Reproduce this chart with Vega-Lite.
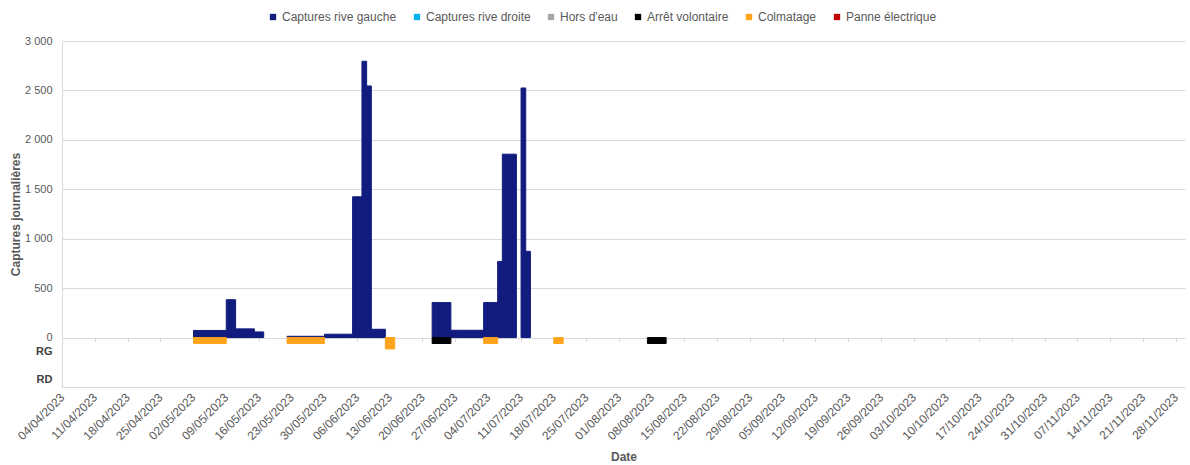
{
  "$schema": "https://vega.github.io/schema/vega-lite/v6.json",
  "width": 1123,
  "height": 346,
  "autosize": "none",
  "padding": {"left": 62, "top": 41, "right": 5, "bottom": 78},
  "background": "white",
  "config": {
    "view": {"stroke": null},
    "font": "Liberation Sans",
    "axis": {"labelFont": "Liberation Sans", "titleFont": "Liberation Sans"},
    "legend": {"labelFont": "Liberation Sans"}
  },
  "data": {
    "values": [
      {"date": "2023-05-02", "serie": "Captures rive gauche", "valeur": 72},
      {"date": "2023-05-03", "serie": "Captures rive gauche", "valeur": 72},
      {"date": "2023-05-04", "serie": "Captures rive gauche", "valeur": 72},
      {"date": "2023-05-05", "serie": "Captures rive gauche", "valeur": 72},
      {"date": "2023-05-06", "serie": "Captures rive gauche", "valeur": 72},
      {"date": "2023-05-07", "serie": "Captures rive gauche", "valeur": 72},
      {"date": "2023-05-08", "serie": "Captures rive gauche", "valeur": 72},
      {"date": "2023-05-09", "serie": "Captures rive gauche", "valeur": 383},
      {"date": "2023-05-10", "serie": "Captures rive gauche", "valeur": 383},
      {"date": "2023-05-11", "serie": "Captures rive gauche", "valeur": 88},
      {"date": "2023-05-12", "serie": "Captures rive gauche", "valeur": 88},
      {"date": "2023-05-13", "serie": "Captures rive gauche", "valeur": 88},
      {"date": "2023-05-14", "serie": "Captures rive gauche", "valeur": 88},
      {"date": "2023-05-15", "serie": "Captures rive gauche", "valeur": 57},
      {"date": "2023-05-16", "serie": "Captures rive gauche", "valeur": 57},
      {"date": "2023-05-22", "serie": "Captures rive gauche", "valeur": 13},
      {"date": "2023-05-23", "serie": "Captures rive gauche", "valeur": 13},
      {"date": "2023-05-24", "serie": "Captures rive gauche", "valeur": 13},
      {"date": "2023-05-25", "serie": "Captures rive gauche", "valeur": 13},
      {"date": "2023-05-26", "serie": "Captures rive gauche", "valeur": 13},
      {"date": "2023-05-27", "serie": "Captures rive gauche", "valeur": 13},
      {"date": "2023-05-28", "serie": "Captures rive gauche", "valeur": 13},
      {"date": "2023-05-29", "serie": "Captures rive gauche", "valeur": 13},
      {"date": "2023-05-30", "serie": "Captures rive gauche", "valeur": 34},
      {"date": "2023-05-31", "serie": "Captures rive gauche", "valeur": 34},
      {"date": "2023-06-01", "serie": "Captures rive gauche", "valeur": 34},
      {"date": "2023-06-02", "serie": "Captures rive gauche", "valeur": 34},
      {"date": "2023-06-03", "serie": "Captures rive gauche", "valeur": 34},
      {"date": "2023-06-04", "serie": "Captures rive gauche", "valeur": 34},
      {"date": "2023-06-05", "serie": "Captures rive gauche", "valeur": 1424},
      {"date": "2023-06-06", "serie": "Captures rive gauche", "valeur": 1424},
      {"date": "2023-06-07", "serie": "Captures rive gauche", "valeur": 2795},
      {"date": "2023-06-08", "serie": "Captures rive gauche", "valeur": 2545},
      {"date": "2023-06-09", "serie": "Captures rive gauche", "valeur": 84},
      {"date": "2023-06-10", "serie": "Captures rive gauche", "valeur": 84},
      {"date": "2023-06-11", "serie": "Captures rive gauche", "valeur": 84},
      {"date": "2023-06-22", "serie": "Captures rive gauche", "valeur": 354},
      {"date": "2023-06-23", "serie": "Captures rive gauche", "valeur": 354},
      {"date": "2023-06-24", "serie": "Captures rive gauche", "valeur": 354},
      {"date": "2023-06-25", "serie": "Captures rive gauche", "valeur": 354},
      {"date": "2023-06-26", "serie": "Captures rive gauche", "valeur": 74},
      {"date": "2023-06-27", "serie": "Captures rive gauche", "valeur": 74},
      {"date": "2023-06-28", "serie": "Captures rive gauche", "valeur": 74},
      {"date": "2023-06-29", "serie": "Captures rive gauche", "valeur": 74},
      {"date": "2023-06-30", "serie": "Captures rive gauche", "valeur": 74},
      {"date": "2023-07-01", "serie": "Captures rive gauche", "valeur": 74},
      {"date": "2023-07-02", "serie": "Captures rive gauche", "valeur": 74},
      {"date": "2023-07-03", "serie": "Captures rive gauche", "valeur": 354},
      {"date": "2023-07-04", "serie": "Captures rive gauche", "valeur": 354},
      {"date": "2023-07-05", "serie": "Captures rive gauche", "valeur": 354},
      {"date": "2023-07-06", "serie": "Captures rive gauche", "valeur": 770},
      {"date": "2023-07-07", "serie": "Captures rive gauche", "valeur": 1855},
      {"date": "2023-07-08", "serie": "Captures rive gauche", "valeur": 1855},
      {"date": "2023-07-09", "serie": "Captures rive gauche", "valeur": 1855},
      {"date": "2023-07-11", "serie": "Captures rive gauche", "valeur": 2525},
      {"date": "2023-07-12", "serie": "Captures rive gauche", "valeur": 872},
      {"date": "2023-05-02", "serie": "Colmatage", "valeur": -60},
      {"date": "2023-05-03", "serie": "Colmatage", "valeur": -60},
      {"date": "2023-05-04", "serie": "Colmatage", "valeur": -60},
      {"date": "2023-05-05", "serie": "Colmatage", "valeur": -60},
      {"date": "2023-05-06", "serie": "Colmatage", "valeur": -60},
      {"date": "2023-05-07", "serie": "Colmatage", "valeur": -60},
      {"date": "2023-05-08", "serie": "Colmatage", "valeur": -60},
      {"date": "2023-05-22", "serie": "Colmatage", "valeur": -60},
      {"date": "2023-05-23", "serie": "Colmatage", "valeur": -60},
      {"date": "2023-05-24", "serie": "Colmatage", "valeur": -60},
      {"date": "2023-05-25", "serie": "Colmatage", "valeur": -60},
      {"date": "2023-05-26", "serie": "Colmatage", "valeur": -60},
      {"date": "2023-05-27", "serie": "Colmatage", "valeur": -60},
      {"date": "2023-05-28", "serie": "Colmatage", "valeur": -60},
      {"date": "2023-05-29", "serie": "Colmatage", "valeur": -60},
      {"date": "2023-06-12", "serie": "Colmatage", "valeur": -115},
      {"date": "2023-06-13", "serie": "Colmatage", "valeur": -115},
      {"date": "2023-07-03", "serie": "Colmatage", "valeur": -60},
      {"date": "2023-07-04", "serie": "Colmatage", "valeur": -60},
      {"date": "2023-07-05", "serie": "Colmatage", "valeur": -60},
      {"date": "2023-07-18", "serie": "Colmatage", "valeur": -60},
      {"date": "2023-07-19", "serie": "Colmatage", "valeur": -60},
      {"date": "2023-06-22", "serie": "Arrêt volontaire", "valeur": -60},
      {"date": "2023-06-23", "serie": "Arrêt volontaire", "valeur": -60},
      {"date": "2023-06-24", "serie": "Arrêt volontaire", "valeur": -60},
      {"date": "2023-06-25", "serie": "Arrêt volontaire", "valeur": -60},
      {"date": "2023-08-07", "serie": "Arrêt volontaire", "valeur": -60},
      {"date": "2023-08-08", "serie": "Arrêt volontaire", "valeur": -60},
      {"date": "2023-08-09", "serie": "Arrêt volontaire", "valeur": -60},
      {"date": "2023-08-10", "serie": "Arrêt volontaire", "valeur": -60}
    ]
  },
  "layer": [
    {
      "mark": {"type": "bar", "binSpacing": 0, "strokeWidth": 1},
      "encoding": {
        "x": {
          "field": "date",
          "type": "temporal",
          "timeUnit": "utcyearmonthdate",
          "title": "Date",
          "scale": {
            "domain": [
              {"year": 2023, "month": 4, "date": 4, "utc": true},
              {"year": 2023, "month": 11, "date": 30, "utc": true}
            ]
          },
          "axis": {
            "orient": "bottom",
            "values": [
              {"year": 2023, "month": 4, "date": 4, "utc": true},
              {"year": 2023, "month": 4, "date": 11, "utc": true},
              {"year": 2023, "month": 4, "date": 18, "utc": true},
              {"year": 2023, "month": 4, "date": 25, "utc": true},
              {"year": 2023, "month": 5, "date": 2, "utc": true},
              {"year": 2023, "month": 5, "date": 9, "utc": true},
              {"year": 2023, "month": 5, "date": 16, "utc": true},
              {"year": 2023, "month": 5, "date": 23, "utc": true},
              {"year": 2023, "month": 5, "date": 30, "utc": true},
              {"year": 2023, "month": 6, "date": 6, "utc": true},
              {"year": 2023, "month": 6, "date": 13, "utc": true},
              {"year": 2023, "month": 6, "date": 20, "utc": true},
              {"year": 2023, "month": 6, "date": 27, "utc": true},
              {"year": 2023, "month": 7, "date": 4, "utc": true},
              {"year": 2023, "month": 7, "date": 11, "utc": true},
              {"year": 2023, "month": 7, "date": 18, "utc": true},
              {"year": 2023, "month": 7, "date": 25, "utc": true},
              {"year": 2023, "month": 8, "date": 1, "utc": true},
              {"year": 2023, "month": 8, "date": 8, "utc": true},
              {"year": 2023, "month": 8, "date": 15, "utc": true},
              {"year": 2023, "month": 8, "date": 22, "utc": true},
              {"year": 2023, "month": 8, "date": 29, "utc": true},
              {"year": 2023, "month": 9, "date": 5, "utc": true},
              {"year": 2023, "month": 9, "date": 12, "utc": true},
              {"year": 2023, "month": 9, "date": 19, "utc": true},
              {"year": 2023, "month": 9, "date": 26, "utc": true},
              {"year": 2023, "month": 10, "date": 3, "utc": true},
              {"year": 2023, "month": 10, "date": 10, "utc": true},
              {"year": 2023, "month": 10, "date": 17, "utc": true},
              {"year": 2023, "month": 10, "date": 24, "utc": true},
              {"year": 2023, "month": 10, "date": 31, "utc": true},
              {"year": 2023, "month": 11, "date": 7, "utc": true},
              {"year": 2023, "month": 11, "date": 14, "utc": true},
              {"year": 2023, "month": 11, "date": 21, "utc": true},
              {"year": 2023, "month": 11, "date": 28, "utc": true}
            ],
            "format": "%d/%m/%Y",
            "labelAngle": -45,
            "labelAlign": "right",
            "labelBaseline": "middle",
            "labelPadding": 8,
            "labelFontSize": 12,
            "labelColor": "#595959",
            "labelOverlap": false,
            "labelFlush": false,
            "ticks": false,
            "tickSize": 0,
            "grid": false,
            "domain": true,
            "domainColor": "#D9D9D9",
            "domainWidth": 1,
            "titleFontSize": 12,
            "titleFontWeight": "bold",
            "titleColor": "#595959",
            "titlePadding": 10
          }
        },
        "y": {
          "field": "valeur",
          "type": "quantitative",
          "stack": null,
          "title": "Captures journalières",
          "scale": {"domain": [-500, 3000], "nice": false, "zero": false},
          "axis": {
            "values": [-420, -140, 0, 500, 1000, 1500, 2000, 2500, 3000],
            "labelExpr": "datum.value == -140 ? 'RG' : datum.value == -420 ? 'RD' : replace(format(datum.value, ','), ',', ' ')",
            "labelFontWeight": {"condition": {"test": "datum.value < 0", "value": "bold"}, "value": "normal"},
            "labelColor": {"condition": {"test": "datum.value < 0", "value": "#404040"}, "value": "#595959"},
            "labelFontSize": 11,
            "labelPadding": 10,
            "ticks": false,
            "tickSize": 0,
            "grid": true,
            "gridColor": "#D9D9D9",
            "gridWidth": 1,
            "gridOpacity": {"condition": {"test": "datum.value < 0", "value": 0}, "value": 1},
            "domain": true,
            "domainColor": "#D9D9D9",
            "titleFontSize": 12,
            "titleFontWeight": "bold",
            "titleColor": "#595959",
            "titlePadding": 2
          }
        },
        "color": {
          "field": "serie",
          "type": "nominal",
          "scale": {
            "domain": ["Captures rive gauche", "Captures rive droite", "Hors d'eau", "Arrêt volontaire", "Colmatage", "Panne électrique"],
            "range": ["#121C7E", "#00B0F0", "#A6A6A6", "#000000", "#FFA41C", "#C00000"]
          },
          "legend": {
            "orient": "none",
            "direction": "horizontal",
            "legendX": 205,
            "legendY": -30,
            "title": null,
            "symbolType": "square",
            "symbolSize": 40,
            "symbolStrokeWidth": 0,
            "labelFontSize": 12,
            "labelColor": "#595959",
            "labelOffset": 3,
            "columnPadding": 14,
            "padding": 0
          }
        },
        "stroke": {
          "field": "serie",
          "type": "nominal",
          "legend": null,
          "scale": {
            "domain": ["Captures rive gauche", "Captures rive droite", "Hors d'eau", "Arrêt volontaire", "Colmatage", "Panne électrique"],
            "range": ["#121C7E", "#00B0F0", "#A6A6A6", "#000000", "#FFA41C", "#C00000"]
          }
        }
      }
    },
    {
      "mark": {"type": "rule", "opacity": 0},
      "encoding": {
        "x": {
          "field": "date",
          "type": "temporal",
          "timeUnit": "utcyearmonthdate",
          "axis": {
            "orient": "bottom",
            "values": [
              {"year": 2023, "month": 4, "date": 11, "utc": true},
              {"year": 2023, "month": 4, "date": 18, "utc": true},
              {"year": 2023, "month": 4, "date": 25, "utc": true},
              {"year": 2023, "month": 5, "date": 2, "utc": true},
              {"year": 2023, "month": 5, "date": 9, "utc": true},
              {"year": 2023, "month": 5, "date": 16, "utc": true},
              {"year": 2023, "month": 5, "date": 23, "utc": true},
              {"year": 2023, "month": 5, "date": 30, "utc": true},
              {"year": 2023, "month": 6, "date": 6, "utc": true},
              {"year": 2023, "month": 6, "date": 13, "utc": true},
              {"year": 2023, "month": 6, "date": 20, "utc": true},
              {"year": 2023, "month": 6, "date": 27, "utc": true},
              {"year": 2023, "month": 7, "date": 4, "utc": true},
              {"year": 2023, "month": 7, "date": 11, "utc": true},
              {"year": 2023, "month": 7, "date": 18, "utc": true},
              {"year": 2023, "month": 7, "date": 25, "utc": true},
              {"year": 2023, "month": 8, "date": 1, "utc": true},
              {"year": 2023, "month": 8, "date": 8, "utc": true},
              {"year": 2023, "month": 8, "date": 15, "utc": true},
              {"year": 2023, "month": 8, "date": 22, "utc": true},
              {"year": 2023, "month": 8, "date": 29, "utc": true},
              {"year": 2023, "month": 9, "date": 5, "utc": true},
              {"year": 2023, "month": 9, "date": 12, "utc": true},
              {"year": 2023, "month": 9, "date": 19, "utc": true},
              {"year": 2023, "month": 9, "date": 26, "utc": true},
              {"year": 2023, "month": 10, "date": 3, "utc": true},
              {"year": 2023, "month": 10, "date": 10, "utc": true},
              {"year": 2023, "month": 10, "date": 17, "utc": true},
              {"year": 2023, "month": 10, "date": 24, "utc": true},
              {"year": 2023, "month": 10, "date": 31, "utc": true},
              {"year": 2023, "month": 11, "date": 7, "utc": true},
              {"year": 2023, "month": 11, "date": 14, "utc": true},
              {"year": 2023, "month": 11, "date": 21, "utc": true},
              {"year": 2023, "month": 11, "date": 28, "utc": true}
            ],
            "labels": false,
            "title": null,
            "domain": false,
            "grid": false,
            "ticks": true,
            "tickSize": 4,
            "tickColor": "#D9D9D9",
            "offset": -49.4
          }
        }
      }
    }
  ],
  "resolve": {"axis": {"x": "independent"}}
}
